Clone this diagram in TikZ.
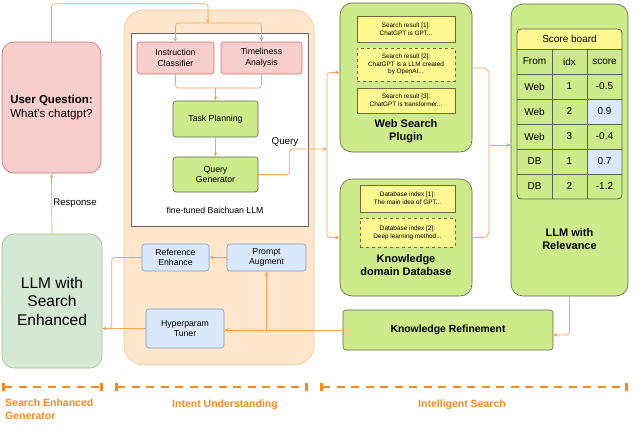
\documentclass[tikz,border=0pt]{standalone}
\usepackage{fontspec}
\setmainfont{Liberation Sans}
\usepackage{tikz}
\usetikzlibrary{arrows.meta}
\definecolor{pinkfill}{HTML}{F8CECC}
\definecolor{pinkline}{HTML}{C4706C}
\definecolor{limefill}{HTML}{CDEB8B}
\definecolor{limeline}{HTML}{5A6646}
\definecolor{mintfill}{HTML}{D5E8D4}
\definecolor{mintline}{HTML}{9BC38A}
\definecolor{bluefill}{HTML}{DAE8FC}
\definecolor{blueline}{HTML}{7D99C4}
\definecolor{notefill}{HTML}{FFF78F}
\definecolor{noteline}{HTML}{6E6A3A}
\definecolor{panelfill}{HTML}{FFE6CC}
\definecolor{panelline}{HTML}{F2C08E}
\definecolor{flowcolor}{HTML}{F5A55A}
\definecolor{stagecolor}{HTML}{F08A24}
\newcommand\fs[2]{\fontsize{#1}{#2}\selectfont}
\tikzstyle{flowhead}=[>/.tip={Stealth[length=4.5pt,width=4pt]},|/.tip={Bar[width=7.5pt]}]
\tikzstyle{link}=[line width=.7pt,draw=flowcolor,rounded corners=3pt]
\tikzstyle{flow}=[link,flowhead,->]
\tikzstyle{stage}=[line width=2.8pt,draw=stagecolor,dash pattern=on 8pt off 6.5pt,flowhead,|-|]
\tikzstyle{stagelabel}=[text=stagecolor,font=\bfseries\fs{10.5}{13},align=left,inner sep=0pt]
\tikzstyle{box}=[draw,line width=.6pt,rounded corners=3pt,align=center,inner sep=0pt,font=\fs{8.7}{10.5}]
\tikzstyle{pinkbox}=[box,fill=pinkfill,draw=pinkline]
\tikzstyle{limebox}=[box,fill=limefill,draw=limeline]
\tikzstyle{mintbox}=[box,fill=mintfill,draw=mintline]
\tikzstyle{bluebox}=[box,fill=bluefill,draw=blueline]
\tikzstyle{note}=[box,rounded corners=0pt,fill=notefill,draw=noteline,font=\fs{6.4}{7.8}]
\tikzstyle{title}=[align=center,inner sep=0pt,font=\bfseries\fs{11}{13}]
\tikzstyle{cell}=[inner sep=0pt,font=\fs{10}{12}]

\begin{document}
\begin{tikzpicture}[x=1pt,y=-1pt]
	\useasboundingbox (0,0) rectangle (640,447);
	\node[box,rounded corners=20pt,fill=panelfill,draw=panelline,minimum width=190,minimum height=355] (iu) at (219,187.5) {};
	\node[box,rounded corners=0pt,fill=white,draw=black!60,line width=.8pt,minimum width=177,minimum height=193] (bc) at (219.5,129.5) {};
	\node[inner sep=0pt,font=\fs{8.7}{10}] (bcl) at (215,210) {fine-tuned Baichuan LLM};
	\node[pinkbox,rounded corners=12pt,minimum width=99,minimum height=131,font=\fs{11.5}{14}] (uq) at (51.5,107.5) {\textbf{User Question:}\\What's chatgpt?};
	\node[mintbox,rounded corners=12pt,minimum width=100,minimum height=134,font=\fs{15.5}{18.5}] (lse) at (52,301) {LLM with\\Search\\Enhanced};
	\node[pinkbox,minimum width=77,minimum height=32] (ic) at (175.5,58) {Instruction\\Classifier};
	\node[pinkbox,minimum width=81,minimum height=32] (ta) at (261.5,58) {Timeliness\\Analysis};
	\node[limebox,minimum width=85,minimum height=36] (tp) at (215.5,119) {Task Planning};
	\node[limebox,minimum width=85,minimum height=35] (qg) at (215.5,174.5) {Query\\Generator};
	\node[bluebox,minimum width=67,minimum height=27] (re) at (175.5,257.5) {Reference\\Enhance};
	\node[bluebox,minimum width=79,minimum height=27] (pa) at (266.5,257.5) {Prompt\\Augment};
	\node[bluebox,minimum width=78,minimum height=39] (ht) at (185,328.5) {Hyperparam\\Tuner};
	\node[limebox,rounded corners=12pt,minimum width=132,minimum height=149] (web) at (406,77.5) {};
	\node[note,minimum width=98,minimum height=26] (sr1) at (406,29) {Search result [1]:\\ChatGPT is GPT...};
	\node[note,dashed,minimum width=98,minimum height=33] (sr2) at (406,64.5) {Search result [2]:\\ChatGPT is a LLM created\\by OpenAI...};
	\node[note,minimum width=98,minimum height=25] (sr3) at (406,100.5) {Search result [3]:\\ChatGPT is transformer...};
	\node[title] (webt) at (406,131) {Web Search\\Plugin};
	\node[limebox,rounded corners=12pt,minimum width=132,minimum height=117] (db) at (406,237.5) {};
	\node[note,minimum width=95,minimum height=27] (db1) at (407.5,198.5) {Database index [1]:\\The main idea of GPT...};
	\node[note,dashed,minimum width=95,minimum height=29] (db2) at (407.5,232.5) {Database index [2]:\\Deep learning method...};
	\node[title] (dbt) at (406,265) {Knowledge\\domain Database};
	\node[limebox,rounded corners=12pt,minimum width=117,minimum height=292] (rel) at (569.5,150) {};
	\node[title] (relt) at (569.5,239) {LLM with\\Relevance};
	\node[limebox,font=\bfseries\fs{10.4}{12},minimum width=210,minimum height=40] (kr) at (448,330) {Knowledge Refinement};
	\begin{scope}
		\clip[rounded corners=4pt] (517,29) rectangle (622,199);
		\fill[limefill] (517,29) rectangle (622,199);
		\fill[notefill] (517,29) rectangle (622,49);
		\fill[bluefill] (587,99) rectangle (622,124);
		\fill[bluefill] (587,149) rectangle (622,174);
	\end{scope}
	\foreach \y in {49,74,99,124,149,174} \draw[limeline,line width=.6pt] (517,\y) -- (622,\y);
	\foreach \x in {552,587} \draw[limeline,line width=.6pt] (\x,49) -- (\x,199);
	\draw[limeline,line width=.8pt,rounded corners=4pt] (517,29) rectangle (622,199);
	\node[cell] (sbt) at (569.5,39) {Score board};
	\foreach \c/\x [count=\k] in {From/534.5,idx/569.5,score/604.5} \node[cell] (col\k) at (\x,61.5) {\c};
	\foreach \f/\i/\s [count=\r] in {Web/1/-0.5,Web/2/0.9,Web/3/-0.4,DB/1/0.7,DB/2/-1.2} {
		\node[cell] (from\r) at (534.5,61.5+25*\r) {\f};
		\node[cell] (idx\r) at (569.5,61.5+25*\r) {\i};
		\node[cell] (score\r) at (604.5,61.5+25*\r) {\s};
	}
	\coordinate (split) at (208,23);
	\coordinate (merge) at (215.5,88);
	\coordinate (qjoin) at (327,149);
	\coordinate (rjoin) at (489,145);
	\draw[flow] (uq.north) -- ++(0,-38) -| (split);
	\draw[flow] (split) -| (ic.north);
	\draw[flow] (split) -| (ta.north);
	\draw[link] (ic.south) |- (merge) -| (ta.south);
	\draw[flow] (merge) -- (tp.north);
	\draw[flow] (tp) -- (qg);
	\draw[flow] (qg.east) -- ++(31,0) |- (qjoin);
	\node[inner sep=0pt,font=\fs{9.8}{12}] (ql) at (285,142) {Query};
	\draw[flow] (qjoin) |- ([yshift=5pt]web.west);
	\draw[flow] (qjoin) |- (db.west);
	\draw[link,rounded corners=6pt] ([yshift=9.5pt]web.east) -| (rjoin);
	\draw[link,rounded corners=6pt] (db.east) -| (rjoin);
	\draw[flow] (rjoin) -- (rjoin -| rel.west);
	\draw[flow] (rel.south) |- ([yshift=-5pt]kr.east);
	\draw[flow] (kr.west) -- (kr.west -| ht.east);
	\draw[flow] (kr.west -| pa.south) -- (pa.south);
	\draw[flow] (ht.west) -- (ht.west -| lse.east);
	\draw[flow] (pa.west) -- (re.east);
	\draw[link] (re.west) -- ++(-30,0) |- (ht.west -| lse.east);
	\draw[flow] (lse.north) -- (uq.south);
	\node[inner sep=0pt,font=\fs{9.6}{12}] (resp) at (75,203) {Response};
	\coordinate (s1a) at (2,387);
	\coordinate (s1b) at (103,387);
	\coordinate (s2a) at (115,387);
	\coordinate (s2b) at (308,387);
	\coordinate (s3a) at (320,387);
	\coordinate (s3b) at (628,387);
	\draw[stage] (s1a) -- (s1b);
	\draw[stage] (s2a) -- (s2b);
	\draw[stage] (s3a) -- (s3b);
	\node[stagelabel,anchor=north west] (sg) at (5,399) {Search Enhanced\\Generator};
	\node[stagelabel] (si) at (225,405) {Intent Understanding};
	\node[stagelabel] (ss) at (462,405) {Intelligent Search};
\end{tikzpicture}
\end{document}
